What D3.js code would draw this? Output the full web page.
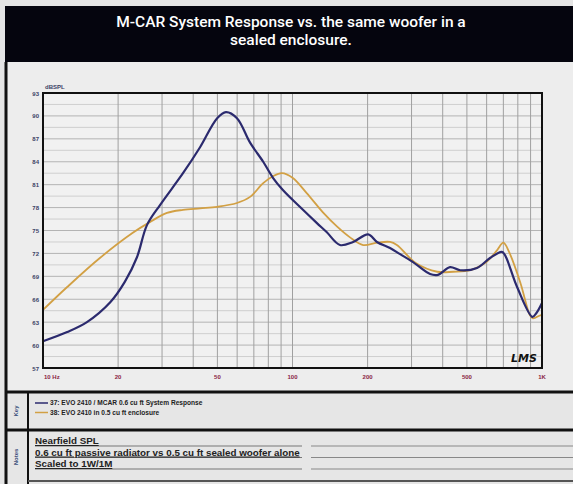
<!DOCTYPE html>
<html>
<head>
<meta charset="utf-8">
<script src="https://cdn.jsdelivr.net/npm/d3@7"></script>
<style>
  body { margin: 0; background: #e5e5e5; }
  svg { display: block; }
</style>
</head>
<body>
<div id="chart"></div>
<script>
// Frequency response readings (Hz, dB SPL)
const systemFreq = [10, 12.5, 15, 18.6, 21.3, 23.8, 26.1, 29.4, 36.4, 42.6, 49.9, 54.1, 59.9, 67.6, 76.3, 83.5, 91.5, 107, 125, 137, 155, 175, 201, 218, 246, 270, 303, 356, 383, 428, 470, 549, 619, 690, 710, 797, 915, 950, 1000];
const systemSpl  = [60.5, 61.7, 63.0, 65.6, 68.3, 71.5, 75.7, 78.3, 82.5, 85.9, 89.7, 90.5, 89.7, 86.5, 84.0, 81.9, 80.3, 78.1, 76.0, 74.8, 73.1, 73.5, 74.5, 73.5, 72.7, 71.9, 70.9, 69.3, 69.2, 70.2, 69.8, 70.1, 71.4, 72.2, 71.8, 67.5, 63.7, 64.2, 65.5];

const sealedFreq = [10, 12.5, 16.9, 22.9, 26.8, 31.4, 36.4, 42.6, 49.9, 59.9, 67.6, 76.3, 83.5, 90.6, 100, 114, 133, 151, 170, 192, 218, 246, 262, 313, 380, 440, 517, 600, 660, 700, 740, 820, 895, 920, 985, 1000];
const sealedSpl  = [64.6, 67.6, 71.4, 74.7, 76.1, 77.3, 77.7, 77.9, 78.1, 78.6, 79.4, 81.2, 82.1, 82.5, 81.9, 79.9, 77.3, 75.5, 74.1, 73.1, 73.4, 73.5, 73.1, 70.7, 69.6, 69.6, 69.8, 70.9, 72.4, 73.4, 72.1, 68.1, 63.9, 63.5, 63.9, 63.9];

const yTicks = [93, 90, 87, 84, 81, 78, 75, 72, 69, 66, 63, 60, 57];
const xTicks = [10, 20, 50, 100, 200, 500, 1000];
const xTickLabels = ["10 Hz", "20", "50", "100", "200", "500", "1K"];

const legendLabels = [
  "37: EVO 2410 / MCAR 0.6 cu ft System Response",
  "38: EVO 2410 in 0.5 cu ft enclosure"
];
const noteLines = [
  "Nearfield SPL",
  "0.6 cu ft passive radiator vs 0.5 cu ft sealed woofer alone",
  "Scaled to 1W/1M"
];
const titleLines = ["M-CAR System Response vs. the same woofer in a", "sealed enclosure."];

const W = 573, H = 484;
const plot = { left: 43, right: 542, top: 93, bottom: 368 };
const blue = "#2b2a6e", gold = "#d2a044";

const svg = d3.select("#chart").append("svg")
  .attr("width", W).attr("height", H);

// page background
svg.append("rect").attr("width", W).attr("height", H).attr("fill", "#e5e5e5");

// title bar
svg.append("rect").attr("x", 5).attr("y", 6).attr("width", W - 5).attr("height", 56).attr("fill", "#05050e");
svg.append("g").selectAll("text").data(titleLines).enter().append("text")
  .attr("x", 291).attr("y", (d, i) => 27 + i * 18)
  .attr("text-anchor", "middle")
  .attr("fill", "#fff")
  .style("font-family", "Roboto, sans-serif")
  .style("font-weight", "500")
  .style("font-size", "15.5px")
  .text(d => d);

// chart panel
svg.append("rect").attr("x", 7).attr("y", 62).attr("width", W - 7).attr("height", 330).attr("fill", "#ededed");

let x = d3.scaleLog().domain([10, 1000]).range([plot.left, plot.right]);
let y = d3.scaleLinear().domain([57, 93]).range([plot.bottom, plot.top]);

svg.append("rect")
  .attr("x", plot.left).attr("y", plot.top)
  .attr("width", plot.right - plot.left).attr("height", plot.bottom - plot.top)
  .attr("fill", "#f1f1f1");

// grid: minor horizontal every 1.5 dB, vertical at 1..9 per decade
let hGrid = d3.range(57, 93.01, 1.5);
svg.append("g").selectAll("line").data(hGrid).enter().append("line")
  .attr("x1", plot.left).attr("x2", plot.right)
  .attr("y1", d => y(d)).attr("y2", d => y(d))
  .attr("stroke", d => (d - 57) % 3 === 0 ? "#b4b4b4" : "#cfcfcf")
  .attr("stroke-width", 1);

let vGrid = x.ticks().filter(d => d > 10 && d < 1000);
svg.append("g").selectAll("line").data(vGrid).enter().append("line")
  .attr("x1", d => x(d)).attr("x2", d => x(d))
  .attr("y1", plot.top).attr("y2", plot.bottom)
  .attr("stroke", "#a0a0a0").attr("stroke-width", 1);

// curves
let line = d3.line()
  .x(d => x(d[0]))
  .y(d => y(d[1]))
  .curve(d3.curveCatmullRom.alpha(0.5));

svg.append("path")
  .datum(d3.zip(sealedFreq, sealedSpl))
  .attr("d", line).attr("fill", "none")
  .attr("stroke", gold).attr("stroke-width", 1.8);

svg.append("path")
  .datum(d3.zip(systemFreq, systemSpl))
  .attr("d", line).attr("fill", "none")
  .attr("stroke", blue).attr("stroke-width", 2.2);

// frame of plot
svg.append("rect")
  .attr("x", plot.left).attr("y", plot.top)
  .attr("width", plot.right - plot.left).attr("height", plot.bottom - plot.top)
  .attr("fill", "none").attr("stroke", "#111").attr("stroke-width", 2);

// y axis labels
svg.append("g").selectAll("text").data(yTicks).enter().append("text")
  .attr("x", 39).attr("y", d => y(d) + 2.5)
  .attr("text-anchor", "end")
  .attr("fill", "#3b4166")
  .style("font-family", "Arial, sans-serif").style("font-weight", "bold").style("font-size", "6px")
  .text(d => d);

svg.append("text").attr("x", 45).attr("y", 89)
  .attr("fill", "#3b4166")
  .style("font-family", "Arial, sans-serif").style("font-weight", "bold").style("font-size", "6px")
  .text("dBSPL");

// x axis labels
svg.append("g").selectAll("text").data(xTicks).enter().append("text")
  .attr("x", (d, i) => i === 0 ? x(d) + 1 : x(d))
  .attr("y", 379)
  .attr("text-anchor", (d, i) => i === 0 ? "start" : "middle")
  .attr("fill", "#8a2444")
  .style("font-family", "Arial, sans-serif").style("font-weight", "bold").style("font-size", "6px")
  .text((d, i) => xTickLabels[i]);

// signature
svg.append("text").attr("x", 537).attr("y", 362)
  .attr("text-anchor", "end")
  .attr("fill", "#111")
  .style("font-family", "DejaVu Sans, sans-serif").style("font-style", "italic")
  .style("font-weight", "bold").style("font-size", "11px")
  .text("LMS");

// lower sections
svg.append("rect").attr("x", 7).attr("y", 392).attr("width", W - 7).attr("height", H - 392).attr("fill", "#e6e6e6");
svg.append("line").attr("x1", 5).attr("x2", W).attr("y1", 392).attr("y2", 392).attr("stroke", "#111").attr("stroke-width", 3);
svg.append("line").attr("x1", 5).attr("x2", W).attr("y1", 430).attr("y2", 430).attr("stroke", "#111").attr("stroke-width", 3);
svg.append("line").attr("x1", 28).attr("x2", 28).attr("y1", 392).attr("y2", H).attr("stroke", "#111").attr("stroke-width", 2);
svg.append("line").attr("x1", 6).attr("x2", 6).attr("y1", 62).attr("y2", H).attr("stroke", "#111").attr("stroke-width", 3);

// side tags
[["Key", 411], ["Notes", 457]].forEach(t => {
  svg.append("text")
    .attr("transform", "translate(18," + t[1] + ") rotate(-90)")
    .attr("text-anchor", "middle")
    .attr("fill", "#3a4f7a")
    .style("font-family", "Arial, sans-serif").style("font-weight", "bold").style("font-size", "6px")
    .text(t[0]);
});

// legend
let legend = svg.append("g").selectAll("g").data(legendLabels).enter().append("g")
  .attr("transform", (d, i) => "translate(35," + (403 + i * 9.5) + ")");
legend.append("line").attr("x1", 0).attr("x2", 13).attr("y1", 0).attr("y2", 0)
  .attr("stroke", (d, i) => i === 0 ? blue : gold).attr("stroke-width", 1.5);
legend.append("text").attr("x", 15).attr("y", 2.2)
  .attr("fill", "#222")
  .style("font-family", "Arial, sans-serif").style("font-weight", "bold").style("font-size", "6.6px")
  .text(d => d);

// notes with form lines
let notes = svg.append("g").selectAll("g").data(noteLines).enter().append("g")
  .attr("transform", (d, i) => "translate(35," + (444 + i * 11.5) + ")");
notes.append("line").attr("x1", 0).attr("x2", 267).attr("y1", 2).attr("y2", 2)
  .attr("stroke", "#777").attr("stroke-width", 1);
notes.append("line").attr("x1", 276).attr("x2", W).attr("y1", 2).attr("y2", 2)
  .attr("stroke", "#888").attr("stroke-width", 1);
notes.append("text").attr("x", 0).attr("y", 0)
  .attr("fill", "#222")
  .style("font-family", "Arial, sans-serif").style("font-weight", "bold").style("font-size", "9.8px")
  .style("text-decoration", "underline")
  .text(d => d);

svg.append("line").attr("x1", 28).attr("x2", W).attr("y1", 481).attr("y2", 481).attr("stroke", "#555").attr("stroke-width", 2);
</script>
</body>
</html>
